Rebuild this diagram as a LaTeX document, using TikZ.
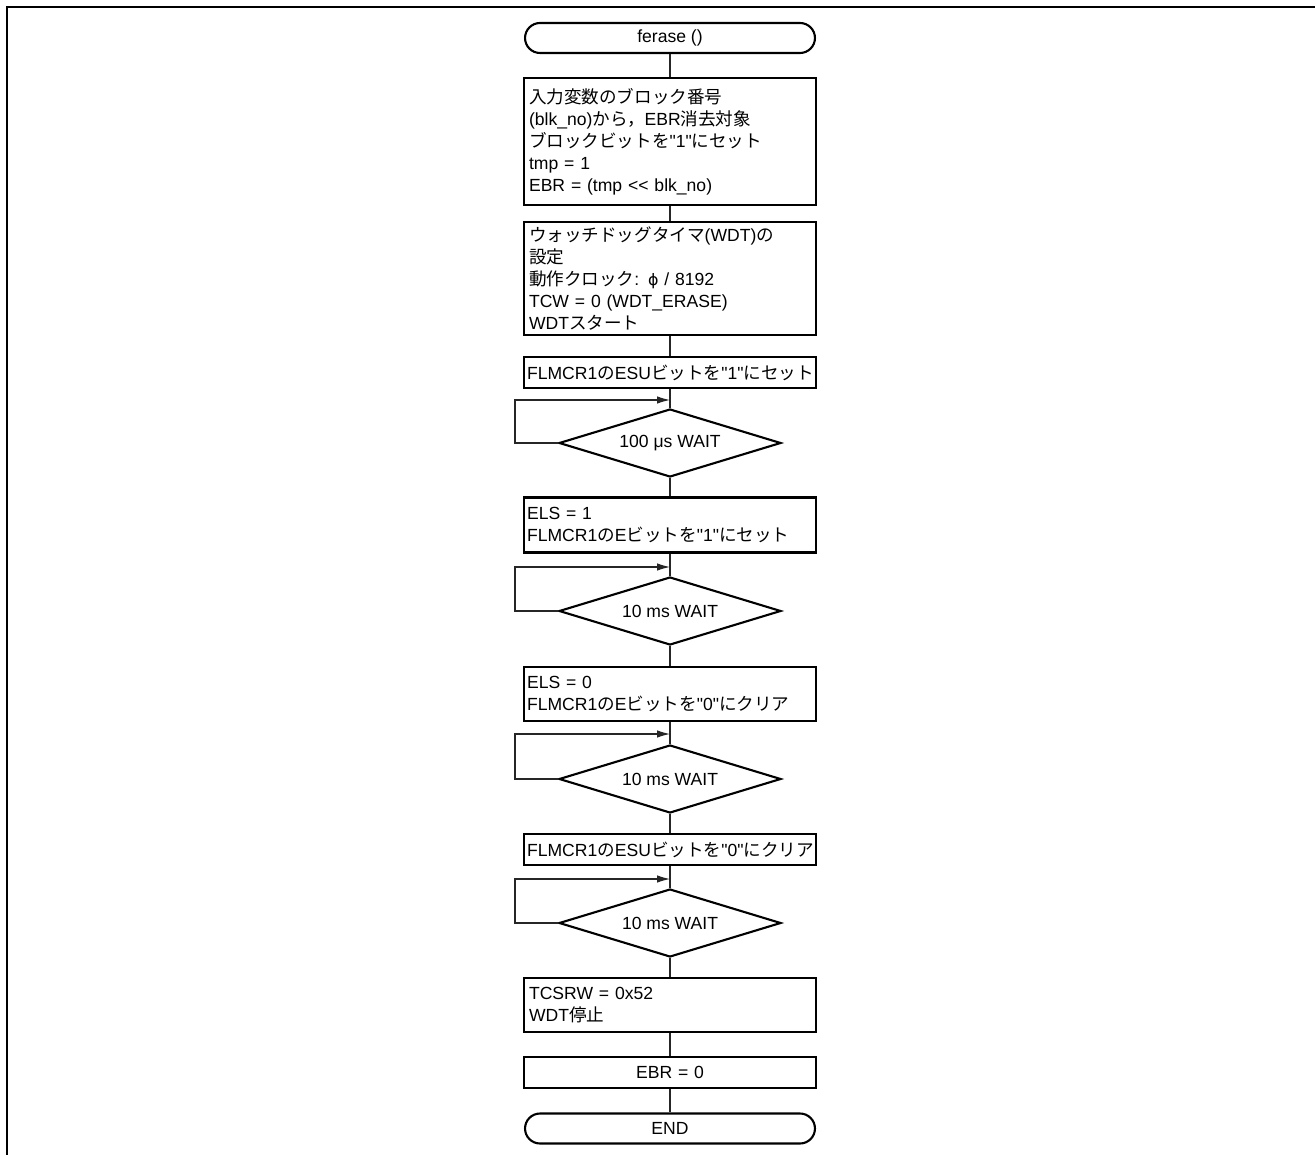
\documentclass[tikz,border=0pt]{standalone}
\usepackage{fontspec}
\newfontfamily\latinfont{Liberation Sans}
\newfontfamily\jpfont{Noto Sans CJK JP}
\newfontfamily\greekfont{DejaVu Sans}
\newcommand\jp[1]{{\jpfont #1}}
\usetikzlibrary{arrows.meta,positioning,shapes.geometric}

\begin{document}
\begin{tikzpicture}[
    x=0.02cm, y=-0.02cm,
    font=\latinfont\fontsize{10}{12.5}\selectfont,
    term/.style={rectangle, draw, line width=1.2pt, rounded corners=0.3cm, minimum width=5.8cm, minimum height=0.6cm, inner sep=0pt},
    proc/.style={rectangle, draw, line width=1.2pt, minimum width=5.84cm, text width=5.64cm, inner xsep=0.1cm, inner ysep=0pt, align=left},
    wide/.style={text width=5.72cm, inner xsep=0.06cm},
    wait/.style={diamond, draw, line width=1.2pt, minimum width=4.44cm, minimum height=1.36cm, inner sep=0pt, aspect=3},
    link/.style={line width=0.6pt, black!85},
    back/.style={-{Latex[length=2.6mm,width=1.5mm]}, line width=0.6pt, black!85},
  ]
    \useasboundingbox (0,0) rectangle (1315,1155);
    \draw[line width=1.7pt] (7,1155) -- (7,7) -- (1315,7);

    \node[term] (start) at (670,38) {ferase ()};
    \node[proc, minimum height=2.54cm] (blk) at (670,141.5) {\jp{入力変数のブロック番号}\\(blk\_no)\jp{から，}EBR\jp{消去対象}\\\jp{ブロックビットを}"1"\jp{にセット}\\tmp = 1\\EBR = (tmp << blk\_no)};
    \node[proc, minimum height=2.26cm] (wdt) at (670,278.5) {\jp{ウォッチドッグタイマ}(WDT)\jp{の}\\\jp{設定}\\\jp{動作クロック}: {\greekfont\fontsize{9}{12.5}\selectfont ϕ} / 8192\\TCW = 0 (WDT\_ERASE)\\WDT\jp{スタート}};
    \node[proc, wide, minimum height=0.62cm] (esu1) at (670,372.5) {FLMCR1\jp{の}ESU\jp{ビットを}"1"\jp{にセット}};
    \node[wait] (w1) at (670,443) {100 μs WAIT};
    \node[proc, wide, minimum height=1.1cm] (e1) at (670,525) {ELS = 1\\FLMCR1\jp{の}E\jp{ビットを}"1"\jp{にセット}};
    \node[wait] (w2) at (670,611) {10 ms WAIT};
    \node[proc, wide, minimum height=1.08cm] (e0) at (670,694) {ELS = 0\\FLMCR1\jp{の}E\jp{ビットを}"0"\jp{にクリア}};
    \node[wait] (w3) at (670,779) {10 ms WAIT};
    \node[proc, wide, minimum height=0.62cm] (esu0) at (670,849.5) {FLMCR1\jp{の}ESU\jp{ビットを}"0"\jp{にクリア}};
    \node[wait] (w4) at (670,923) {10 ms WAIT};
    \node[proc, minimum height=1.08cm] (stop) at (670,1005) {TCSRW = 0x52\\WDT\jp{停止}};
    \node[proc, align=center, minimum height=0.62cm] (ebr) at (670,1072.5) {EBR = 0};
    \node[term] (end) at (670,1128.5) {END};

    \draw[link] (start) -- (blk);
    \draw[link] (blk) -- (wdt);
    \draw[link] (wdt) -- (esu1);
    \draw[link] (esu1) -- (w1);
    \draw[link] (w1) -- (e1);
    \draw[link] (e1) -- (w2);
    \draw[link] (w2) -- (e0);
    \draw[link] (e0) -- (w3);
    \draw[link] (w3) -- (esu0);
    \draw[link] (esu0) -- (w4);
    \draw[link] (w4) -- (stop);
    \draw[link] (stop) -- (ebr);
    \draw[link] (ebr) -- (end);

    \coordinate (l1) at (515,400);
    \coordinate (l2) at (515,567);
    \coordinate (l3) at (515,734);
    \coordinate (l4) at (515,879);
    \draw[back] (w1.west) -| (l1) -- (l1 -| w1.north);
    \draw[back] (w2.west) -| (l2) -- (l2 -| w2.north);
    \draw[back] (w3.west) -| (l3) -- (l3 -| w3.north);
    \draw[back] (w4.west) -| (l4) -- (l4 -| w4.north);
  \end{tikzpicture}
\end{document}
